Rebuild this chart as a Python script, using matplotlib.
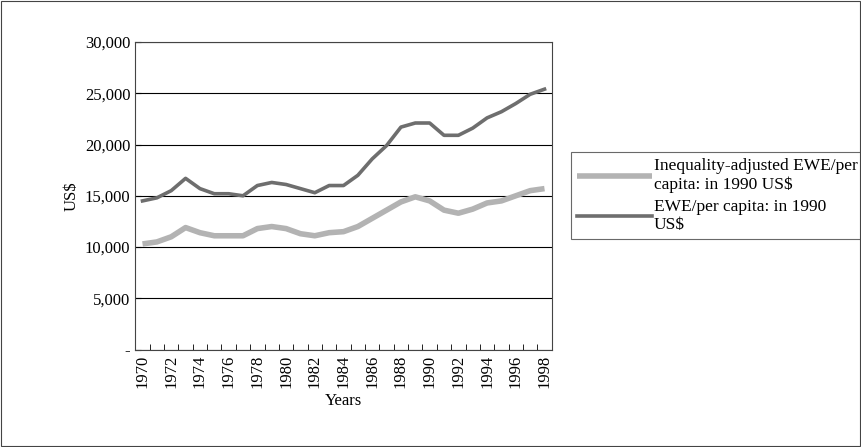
import numpy as np
import matplotlib
matplotlib.use("Agg")
import matplotlib.pyplot as plt
from matplotlib.ticker import FuncFormatter

plt.rcParams["font.family"] = ["Liberation Serif", "DejaVu Serif"]

years = list(range(1970, 1999))
ewe = [14500, 14800, 15500, 16700, 15700, 15200, 15200, 15000, 16000, 16300,
       16100, 15700, 15300, 16000, 16000, 17000, 18600, 19900, 21700, 22100,
       22100, 20900, 20900, 21600, 22600, 23200, 24000, 24900, 25400]
ewe_adj = [10300, 10500, 11000, 11900, 11400, 11100, 11100, 11100, 11800, 12000,
           11800, 11300, 11100, 11400, 11500, 12000, 12800, 13600, 14400, 14900,
           14500, 13600, 13300, 13700, 14300, 14500, 15000, 15500, 15700]

fig = plt.figure(figsize=(8.62, 4.47), dpi=100)
ax = fig.add_axes([0.157, 0.218, 0.483, 0.688])
x = np.arange(len(years))
ax.plot(x, ewe_adj, color="#b3b3b3", lw=4, solid_capstyle="butt",
        label="Inequality-adjusted EWE/per\ncapita: in 1990 US$")
ax.plot(x, ewe, color="#6e6e6e", lw=2.6, label="EWE/per capita: in 1990\nUS$")

ax.set_xlim(-0.5, len(years) - 0.5)
ax.set_ylim(0, 30000)
ax.set_yticks(range(0, 30001, 5000))
ax.yaxis.set_major_formatter(FuncFormatter(lambda v, p: "-" if v == 0 else f"{int(v):,}"))
ax.yaxis.grid(True, color="black", lw=0.8)
ax.set_axisbelow(True)
ax.set_xticks(x[::2])
ax.set_xticklabels([str(y) for y in years[::2]], rotation=90)
ax.set_xticks(np.arange(-0.5, len(years)), minor=True)
ax.tick_params(axis="x", which="major", length=0, labelsize=12)
ax.tick_params(axis="x", which="minor", length=4, direction="in")
ax.tick_params(axis="y", labelsize=12, length=4, direction="in")
for s in ax.spines.values():
    s.set_color("#444444")
ax.set_ylabel("US$", fontsize=12)
ax.set_xlabel("Years", fontsize=12)

leg = ax.legend(loc="center left", bbox_to_anchor=(1.047, 0.5), fontsize=12.5,
                frameon=True, fancybox=False, edgecolor="#444444",
                handlelength=4.3, handletextpad=0.1, borderpad=0.35,
                labelspacing=0.3, borderaxespad=0)
leg.get_frame().set_linewidth(0.8)

fig.patches.append(plt.Rectangle((0.001, 0.002), 0.997, 0.996, transform=fig.transFigure,
                                 fill=False, edgecolor="#444444", lw=0.8))
fig.savefig("out.png", dpi=100)
